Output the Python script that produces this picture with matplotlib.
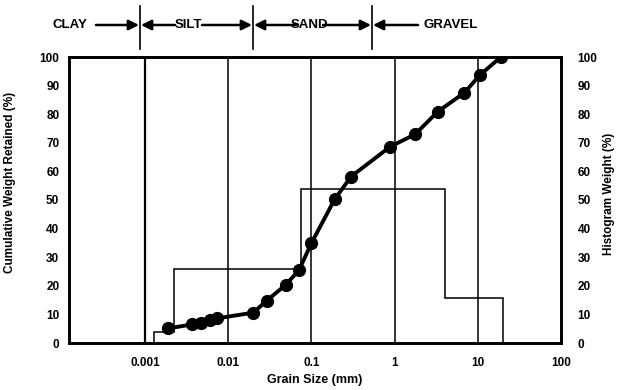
import matplotlib
matplotlib.use("Agg")
import matplotlib.pyplot as plt

plt.rcParams['font.family'] = ['Liberation Sans', 'DejaVu Sans']
plt.rcParams['font.weight'] = 'bold'

# ---- data ----
grain_size_mm = [0.0019, 0.0037, 0.0047, 0.0060, 0.0073, 0.020, 0.029, 0.049,
                 0.071, 0.10, 0.19, 0.30, 0.88, 1.77, 3.3, 6.9, 10.6, 19.0]
cumulative_pct = [5.1, 6.5, 7.1, 8.0, 8.6, 10.6, 14.8, 20.3,
                  25.5, 34.9, 50.2, 58.2, 68.6, 73.0, 80.9, 87.5, 93.7, 100.0]
hist_edges_mm = [0.0013, 0.00226, 0.074, 4.0, 20.0]
hist_weight_pct = [4.0, 26.0, 54.0, 15.7]
decade_lines = [0.001, 0.01, 0.1, 1, 10]
x_ticks = [0.001, 0.01, 0.1, 1, 10, 100]
x_tick_labels = ['0.001', '0.01', '0.1', '1', '10', '100']
y_ticks = list(range(0, 101, 10))
class_labels = ['CLAY', 'SILT', 'SAND', 'GRAVEL']

W, H = 619, 390
fig = plt.figure(figsize=(W / 100, H / 100), dpi=100)
ax = fig.add_axes([69 / W, 1 - 343 / H, (561 - 69) / W, (343 - 57) / H])
ax2 = ax.twinx()

ax.set_xscale('log')
ax.set_xlim(1.22e-4, 100)
ax.set_ylim(0, 100)
ax2.set_ylim(0, 100)

for d in decade_lines:
    ax.axvline(d, color='black', lw=1.6 if d == 0.001 else 1.1, zorder=1)

ax2.stairs(hist_weight_pct, hist_edges_mm, color='black', lw=1.1, baseline=0)

ax.plot(grain_size_mm, cumulative_pct, color='black', lw=2.8, marker='o',
        markersize=8.5, zorder=5)

ax.set_zorder(ax2.get_zorder() + 1)
ax.patch.set_visible(False)

ax.set_xticks(x_ticks)
ax.set_xticklabels(x_tick_labels)
ax.xaxis.set_minor_locator(matplotlib.ticker.NullLocator())
ax.set_yticks(y_ticks)
ax2.set_yticks(y_ticks)
ax.tick_params(axis='x', length=0, pad=10, labelsize=8.5)
ax.tick_params(axis='y', length=0, pad=7, labelsize=8.5)
ax2.tick_params(axis='y', length=0, pad=12, labelsize=8.5)

for a in (ax, ax2):
    for s in a.spines.values():
        s.set_linewidth(1.9)

ax.set_xlabel('Grain Size (mm)', fontsize=9, fontweight='bold')
ax.xaxis.set_label_coords(0.5, -0.11)
ax.set_ylabel('Cumulative Weight Retained (%)', fontsize=8.5, fontweight='bold')
ax.yaxis.set_label_coords(-0.108, 0.56)
ax2.set_ylabel('Histogram Weight (%)', fontsize=8.5, fontweight='bold', rotation=90)
ax2.yaxis.set_label_coords(1.085, 0.52)


def fp(x, y):
    return (x / W, 1 - y / H)


ty = 25
fs = 9.5
fig.text(*fp(70, ty), class_labels[0], ha='center', va='center', fontsize=fs, fontweight='bold')
fig.text(*fp(188, ty), class_labels[1], ha='center', va='center', fontsize=fs, fontweight='bold')
fig.text(*fp(309, ty), class_labels[2], ha='center', va='center', fontsize=fs, fontweight='bold')
fig.text(*fp(451, ty), class_labels[3], ha='center', va='center', fontsize=fs, fontweight='bold')

arrows = [((96, ty), (139, ty)), ((175, ty), (141, ty)), ((202, ty), (252, ty)),
          ((296, ty), (254, ty)), ((323, ty), (371, ty)), ((418, ty), (373, ty))]
for start, end in arrows:
    fig.patches.append(matplotlib.patches.FancyArrowPatch(
        fp(*start), fp(*end), transform=fig.transFigure, arrowstyle='-|>',
        mutation_scale=15, lw=1.8, color='black', shrinkA=0, shrinkB=0))

for x in (140, 253, 372):
    fig.add_artist(matplotlib.lines.Line2D([x / W, x / W], [1 - 6 / H, 1 - 49 / H],
                                           transform=fig.transFigure, color='black', lw=1.2))

fig.savefig('out.png', dpi=100)
